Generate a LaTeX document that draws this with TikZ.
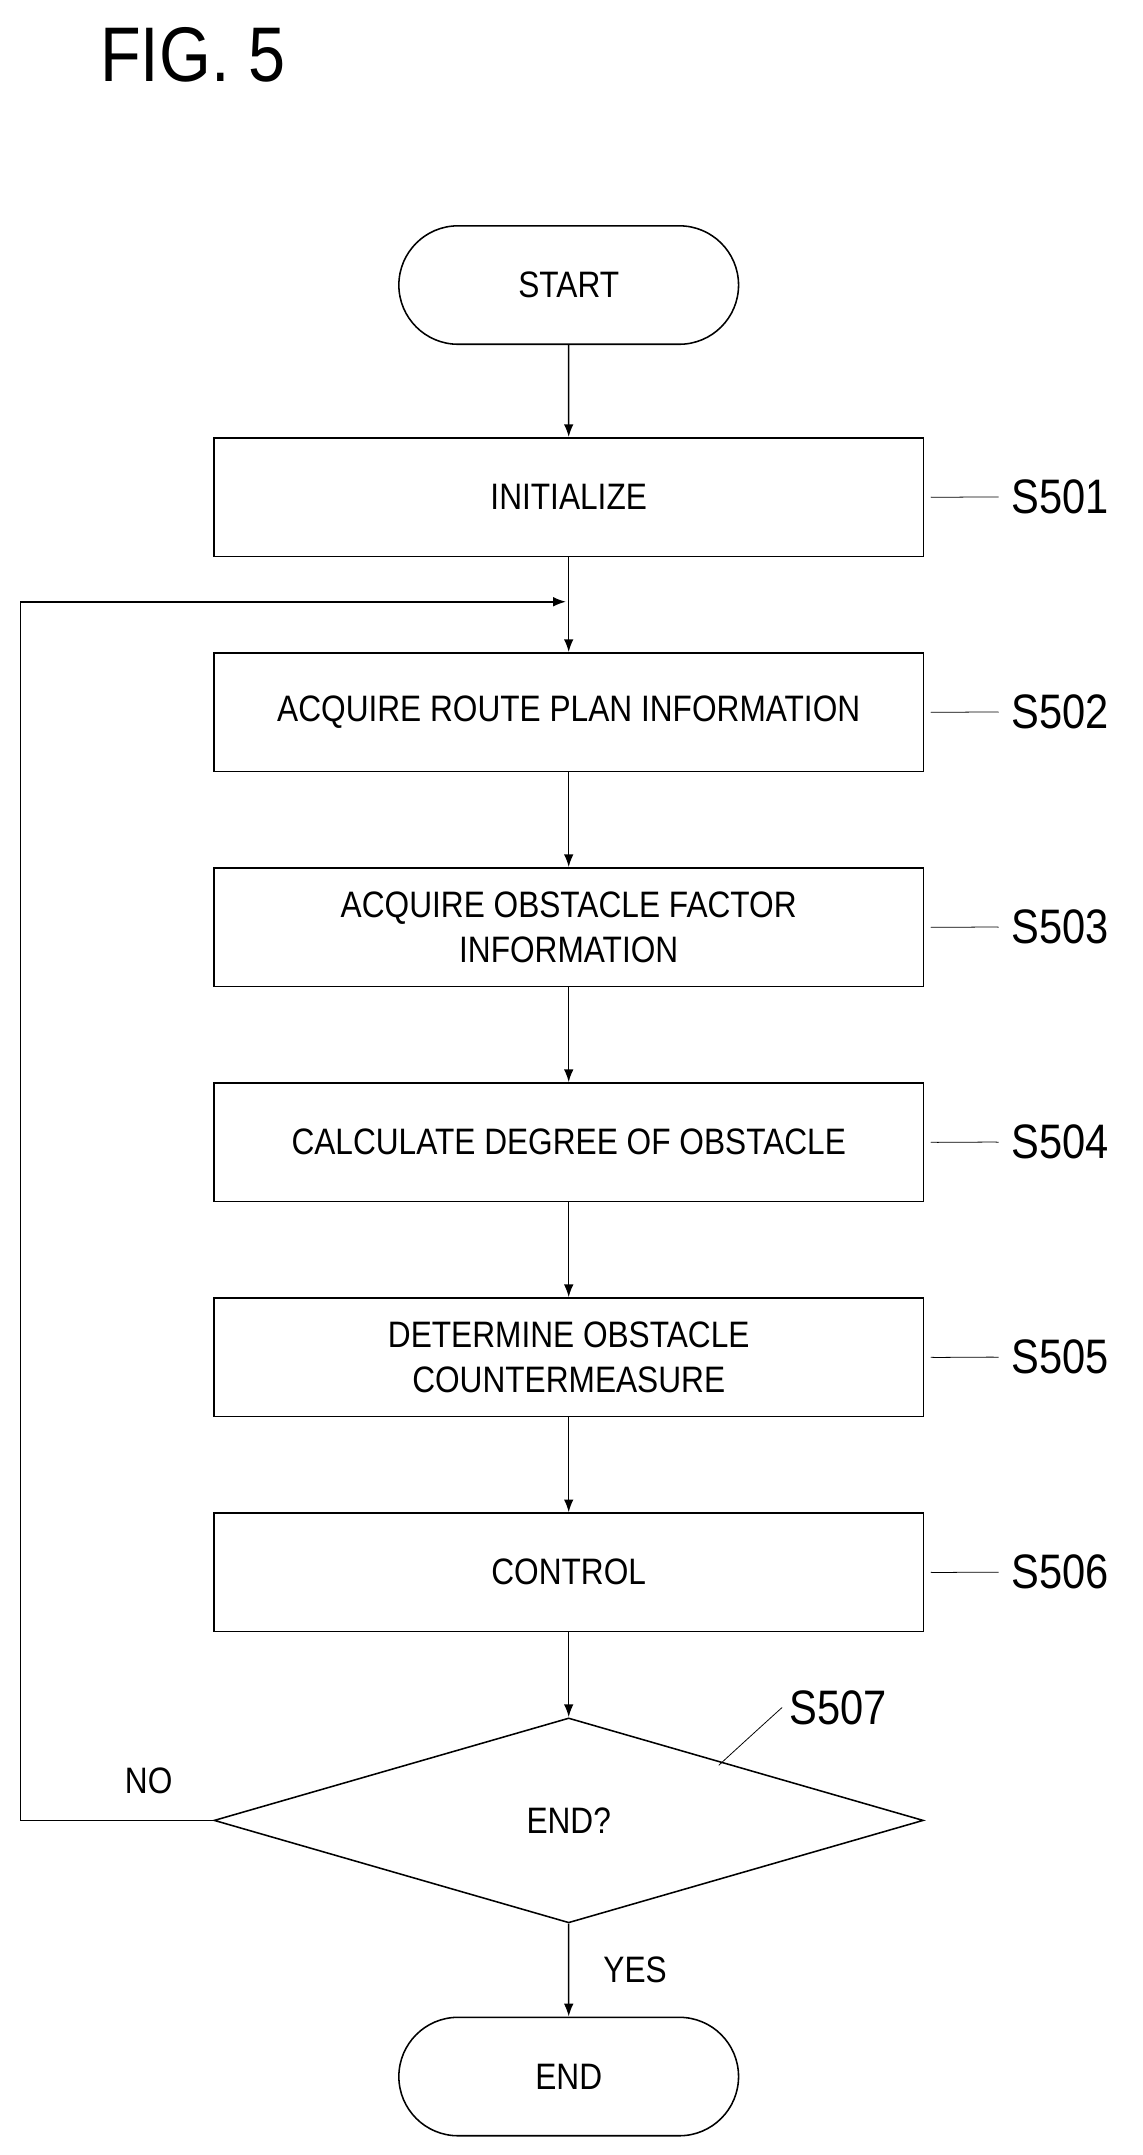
\documentclass[tikz,border=0pt]{standalone}
\usepackage{fontspec}
\setmainfont{Liberation Sans}[FakeStretch=0.86]
\usetikzlibrary{shapes.geometric,shapes.misc,arrows.meta,positioning}
\begin{document}
\begin{tikzpicture}[>=Latex, thick, x=0.025cm, y=-0.025cm]
    % Define styles for blocks, terminals and step labels
    \tikzstyle{block} = [draw, rectangle, minimum height=2.15cm, minimum width=12.875cm, align=center, font=\fontsize{19}{23}\selectfont]
    \tikzstyle{term} = [draw, rounded rectangle, minimum height=2.15cm, minimum width=6.4cm, font=\fontsize{19}{23}\selectfont]
    \tikzstyle{decision} = [draw, diamond, aspect=3.46, minimum width=12.875cm, minimum height=3.72cm, inner sep=0pt, font=\fontsize{19}{23}\selectfont]
    \tikzstyle{steplabel} = [anchor=west, font=\fontsize{25}{30}\selectfont]
    \useasboundingbox (0,0) rectangle (830,1565);

    % Nodes placement
    \node at (140,40) {\fontsize{40}{48}\selectfont FIG. 5};
    \node [term] at (413,207) (start) {START};
    \node [block] at (413,361) (init) {INITIALIZE};
    \node [block, below=1.725cm of init] (route) {ACQUIRE ROUTE PLAN INFORMATION};
    \node [block, below=1.725cm of route] (factor) {ACQUIRE OBSTACLE FACTOR\\INFORMATION};
    \node [block, below=1.725cm of factor] (degree) {CALCULATE DEGREE OF OBSTACLE};
    \node [block, below=1.725cm of degree] (measure) {DETERMINE OBSTACLE\\COUNTERMEASURE};
    \node [block, below=1.725cm of measure] (control) {CONTROL};
    \node [decision] at (413,1322) (isend) {END?};
    \node [term] at (413,1508) (finish) {END};
    \coordinate (merge) at (413,437);
    \coordinate (loop) at (15,1322);

    % Step labels with squiggles
    \foreach \n/\s in {init/S501, route/S502, factor/S503, degree/S504, measure/S505, control/S506} {
        \node [steplabel] at ([xshift=1.45cm]\n.east) (l\s) {\s};
        \draw [thin] ([xshift=0.12cm]\n.east) .. controls +(0.4,0.35) and +(-0.4,-0.35) .. ([xshift=-0.1cm]l\s.west);
    }
    \node [steplabel] at (568,1240) (lS507) {S507};
    \draw [thin] (522,1282) .. controls +(0.4,-0.6) and +(-0.5,0.3) .. (lS507.west);

    % Draw edges
    \draw [->] (start) -- (init);
    \draw (init) -- (merge);
    \draw [->] (merge) -- (route);
    \draw [->] (route) -- (factor);
    \draw [->] (factor) -- (degree);
    \draw [->] (degree) -- (measure);
    \draw [->] (measure) -- (control);
    \draw [->] (control) -- (isend);
    \draw [->] (isend) -- node[right=0.5cm, font=\fontsize{19}{23}\selectfont] {YES} (finish);
    \draw [->] (isend.west) -- (loop) |- ([xshift=-0.05cm]merge);
    \node [font=\fontsize{19}{23}\selectfont] at (108,1293) {NO};
\end{tikzpicture}
\end{document}
